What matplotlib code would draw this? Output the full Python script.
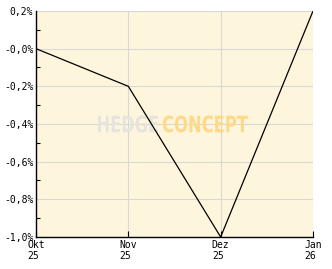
import numpy as np
import matplotlib.pyplot as plt
from matplotlib.ticker import FuncFormatter, MultipleLocator
from matplotlib.textpath import TextPath
from matplotlib.patches import PathPatch
from matplotlib.font_manager import FontProperties
from matplotlib.transforms import Affine2D

months = ['Okt\n25', 'Nov\n25', 'Dez\n25', 'Jan\n26']
values = [0.0, -0.2, -1.0, 0.2]
yticks = [-1.0, -0.8, -0.6, -0.4, -0.2, 0.0, 0.2]

fig = plt.figure(figsize=(3.32, 2.69), dpi=100)
ax = fig.add_axes([36/332, 1-237/269, 277/332, 226/269])
ax.set_facecolor('#fef6dc')

x = np.arange(len(months))
ax.plot(x, values, color='black', lw=0.9, zorder=3)

ax.set_xlim(0, len(months)-1)
ax.set_ylim(-1.0, 0.2)
ax.set_xticks(x)
ax.set_xticklabels(months)
ax.set_yticks(yticks)
ax.yaxis.set_minor_locator(MultipleLocator(0.1))

def fmt(v, pos):
    s = '%.1f%%' % v
    if abs(v) < 1e-9:
        s = '-0,0%'
    return s.replace('.', ',')
ax.yaxis.set_major_formatter(FuncFormatter(fmt))

ax.grid(True, color='#d8d8d8', lw=0.8, zorder=1)
for s in ['top', 'right']:
    ax.spines[s].set_visible(False)
for s in ['left', 'bottom']:
    ax.spines[s].set_linewidth(1.0)
ax.tick_params(axis='both', which='both', direction='in', length=3, width=0.8,
               labelsize=7, pad=2)
ax.tick_params(axis='y', which='major', length=0)
ax.tick_params(axis='x', which='major', length=4)
for lab in ax.get_xticklabels() + ax.get_yticklabels():
    lab.set_family('DejaVu Sans Mono')
for lab in ax.get_xticklabels():
    lab.set_ha('center')
    lab.set_multialignment('left')

# watermark, squeezed into a box given in axes fractions
def logo(word, x0, x1, y0, y1, color):
    tp = TextPath((0, 0), word, size=10, prop=FontProperties(family='DejaVu Sans', weight='bold'))
    ext = tp.get_extents()
    tr = Affine2D().translate(-ext.x0, -ext.y0).scale((x1-x0)/ext.width, (y1-y0)/ext.height).translate(x0, y0)
    ax.add_patch(PathPatch(tr.transform_path(tp), transform=ax.transAxes, facecolor=color,
                           edgecolor='none', zorder=2))

logo('HEDGE', 0.224, 0.440, 0.462, 0.538, '#e6e4de')
logo('CONCEPT', 0.458, 0.765, 0.462, 0.538, '#fdd98a')

fig.savefig('out.png', dpi=100)
